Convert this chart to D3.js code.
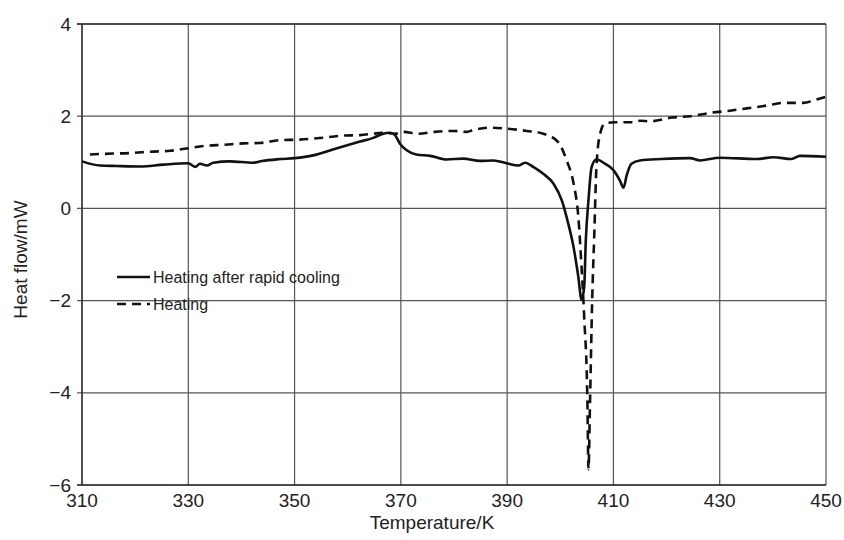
<!DOCTYPE html>
<html lang="en">
    <head>
        <meta charset="UTF-8">
        <title>Heat flow vs temperature</title>
        <style>
            * { box-sizing: border-box; }
            body { margin: 0; background: #fff; font-family: 'Liberation Sans', Arial, sans-serif; }
            svg text { fill: #222; }
        </style>
    </head>
    <body>
        <div id="chart"></div>
        <script src="https://cdn.jsdelivr.net/npm/d3@7"></script>
        <script>

            // heating after rapid cooling (solid)
            var rapidT = [310, 313.4, 316.5, 321, 325.3, 330, 331.3, 332.2, 333.5, 334.7, 337.8, 342.2, 343.9, 347.3, 350,
                          353.5, 357.2, 362.3, 364.8, 366.4, 368, 368.9, 369.8, 371.1, 372.9, 375.5, 378.6, 381.7, 384.9,
                          387.4, 389.9, 392.1, 393.4, 394.9, 396.8, 398.7, 400.3, 401.5, 402.5, 403.4, 404.0, 404.5, 404.8,
                          405.3, 405.9, 406.8, 408.4, 410, 411.2, 411.9, 412.5, 413.4, 415, 419, 424.4, 426.3, 430, 437,
                          440.1, 443.5, 445.1, 450];
            var rapidHF = [1.02, 0.93, 0.92, 0.91, 0.95, 0.98, 0.90, 0.97, 0.93, 0.99, 1.02, 0.99, 1.03, 1.07, 1.09,
                           1.15, 1.28, 1.45, 1.53, 1.61, 1.64, 1.59, 1.41, 1.26, 1.17, 1.14, 1.06, 1.08, 1.03,
                           1.04, 0.98, 0.93, 0.99, 0.90, 0.75, 0.54, 0.17, -0.33, -0.84, -1.49, -1.98, -1.71, -0.70,
                           0.17, 0.90, 1.06, 0.97, 0.83, 0.61, 0.45, 0.72, 0.97, 1.04, 1.07, 1.09, 1.04, 1.10, 1.07,
                           1.11, 1.07, 1.14, 1.12];

            // heating (dashed)
            var heatT = [311.5, 315.8, 319, 322.8, 326.6, 329.7, 333.5, 336.5, 340.3, 343.5, 347.3, 350.4, 354.2, 359.2,
                         362.3, 364.8, 366.4, 368.9, 370.4, 373.3, 376.4, 379.9, 382.4, 383.6, 386.8, 389.9, 393.7,
                         396.8, 399.6, 401.2, 402.5, 403.4, 404.0, 404.5, 405.1, 405.3, 405.6, 406.0, 406.4, 406.8,
                         407.5, 408.4, 410.3, 413.7, 415, 416.9, 421, 424.4, 428.1, 431.9, 435.1, 438.8, 442, 445.7,
                         448.2, 450];
            var heatHF = [1.17, 1.19, 1.20, 1.23, 1.25, 1.30, 1.36, 1.38, 1.41, 1.42, 1.48, 1.49, 1.52, 1.58,
                          1.59, 1.62, 1.64, 1.62, 1.66, 1.62, 1.66, 1.68, 1.66, 1.70, 1.75, 1.73, 1.68,
                          1.62, 1.44, 1.04, 0.54, -0.19, -1.27, -2.36, -4.17, -5.66, -4.17, -2.0, -0.55, 0.90,
                          1.62, 1.84, 1.87, 1.87, 1.90, 1.89, 1.97, 2.0, 2.07, 2.12, 2.17, 2.23, 2.29, 2.29,
                          2.36, 2.42];

            var xTicks = [310, 330, 350, 370, 390, 410, 430, 450];
            var yTicks = [-6, -4, -2, 0, 2, 4];
            var seriesNames = ['Heating after rapid cooling', 'Heating'];

            var w = 844, h = 540;
            var plotLeft = 82, plotRight = 826, plotTop = 24, plotBottom = 485;

            var svg = d3.select('#chart').append('svg').attr('width', w).attr('height', h);

            var x = d3.scaleLinear().domain([310, 450]).range([plotLeft, plotRight]);
            var y = d3.scaleLinear().domain([-6, 4]).range([plotBottom, plotTop]);

            // grid
            svg.append('g').selectAll('line').data(xTicks).join('line')
                .attr('x1', d => x(d)).attr('x2', d => x(d))
                .attr('y1', plotTop).attr('y2', plotBottom)
                .attr('stroke', '#555').attr('stroke-width', 1.2);
            svg.append('g').selectAll('line').data(yTicks).join('line')
                .attr('x1', plotLeft - 5).attr('x2', plotRight)
                .attr('y1', d => y(d)).attr('y2', d => y(d))
                .attr('stroke', d => (d === 4 || d === -6) ? '#111' : '#555')
                .attr('stroke-width', d => (d === 4 || d === -6) ? 1.6 : 1.2);
            svg.append('line').attr('x1', plotLeft).attr('x2', plotLeft).attr('y1', plotTop).attr('y2', plotBottom)
                .attr('stroke', '#333').attr('stroke-width', 1.4);

            // tick labels
            svg.append('g').selectAll('text').data(yTicks).join('text')
                .attr('x', 71).attr('y', d => y(d)).attr('dy', '0.35em')
                .attr('text-anchor', 'end').attr('font-size', 19)
                .text(d => d < 0 ? '\u2212' + Math.abs(d) : d);
            svg.append('g').selectAll('text').data(xTicks).join('text')
                .attr('x', d => x(d)).attr('y', 507)
                .attr('text-anchor', 'middle').attr('font-size', 19)
                .text(d => d);

            // axis titles
            svg.append('text').attr('x', (plotLeft + plotRight) / 2 - 22).attr('y', 529)
                .attr('text-anchor', 'middle').attr('font-size', 19).text('Temperature/K');
            svg.append('text').attr('transform', 'translate(27,' + ((plotTop + plotBottom) / 2 + 5) + ') rotate(-90)')
                .attr('text-anchor', 'middle').attr('font-size', 19).text('Heat flow/mW');

            // curves
            var line = d3.line().x(d => x(d[0])).y(d => y(d[1])).curve(d3.curveMonotoneX);
            var rapid = rapidT.map((t, i) => [t, rapidHF[i]]);
            var heat = heatT.map((t, i) => [t, heatHF[i]]);

            svg.append('path').datum(heat).attr('d', line)
                .attr('fill', 'none').attr('stroke', '#111').attr('stroke-width', 2.6)
                .attr('stroke-dasharray', '9,6');
            svg.append('path').datum(rapid).attr('d', line)
                .attr('fill', 'none').attr('stroke', '#111').attr('stroke-width', 2.6)
                .attr('stroke-linejoin', 'round');

            // legend
            var legend = svg.append('g');
            seriesNames.forEach(function (name, i) {
                var ly = 277 + i * 27;
                legend.append('line').attr('x1', 117).attr('x2', 150).attr('y1', ly).attr('y2', ly)
                    .attr('stroke', '#111').attr('stroke-width', 2.6)
                    .attr('stroke-dasharray', i === 1 ? '9,6' : null);
                legend.append('text').attr('x', 153).attr('y', ly).attr('dy', '0.35em')
                    .attr('font-size', 16).text(name);
            });
        </script>
    </body>
</html>
